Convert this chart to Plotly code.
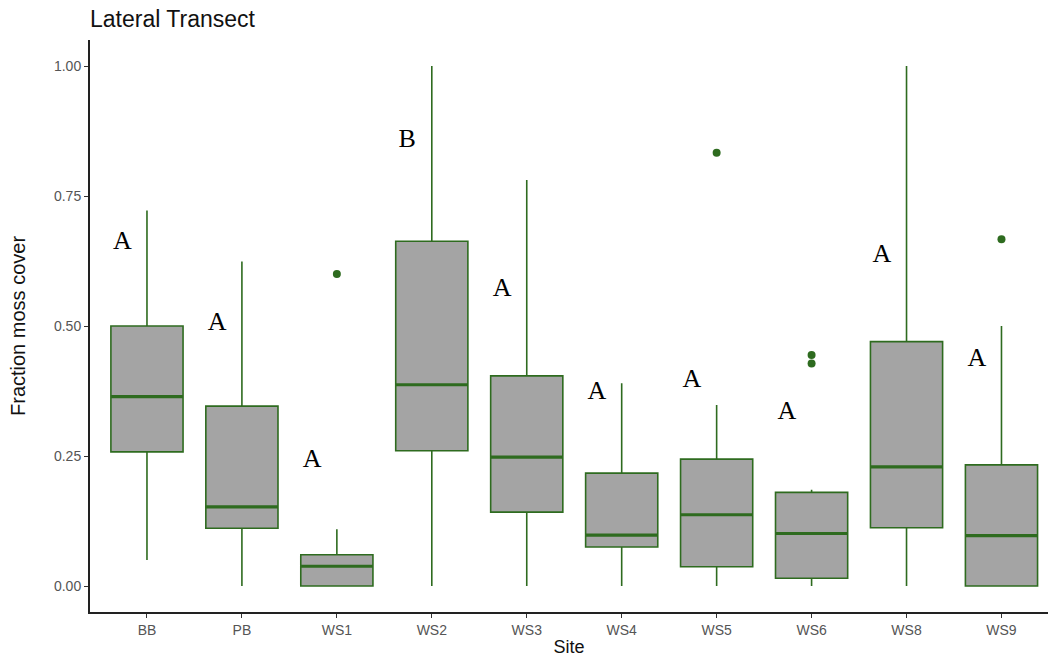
import plotly.graph_objects as go

# Fraction moss cover by site, lateral transect
sites = ["BB", "PB", "WS1", "WS2", "WS3", "WS4", "WS5", "WS6", "WS8", "WS9"]
lower_whisker = [0.05, 0.0, 0.0, 0.0, 0.0, 0.0, 0.0, 0.0, 0.0, 0.0]
q1 = [0.258, 0.111, 0.0, 0.260, 0.142, 0.075, 0.037, 0.015, 0.112, 0.0]
median = [0.364, 0.152, 0.038, 0.387, 0.248, 0.098, 0.137, 0.101, 0.229, 0.097]
q3 = [0.500, 0.346, 0.060, 0.663, 0.404, 0.217, 0.244, 0.180, 0.470, 0.233]
upper_whisker = [0.722, 0.624, 0.109, 1.0, 0.781, 0.390, 0.348, 0.185, 1.0, 0.500]

# Outlying observations (site, value)
outlier_site = ["WS1", "WS5", "WS6", "WS6", "WS9"]
outlier_value = [0.600, 0.833, 0.444, 0.428, 0.667]

# Compact letter display from post-hoc comparisons
group_letters = ["A", "A", "A", "B", "A", "A", "A", "A", "A", "A"]
letter_y = [0.660, 0.505, 0.242, 0.856, 0.571, 0.373, 0.396, 0.333, 0.635, 0.435]

GREEN = "#2e6b1f"
FILL = "#a4a4a4"
BOX_W = 0.76

xpos = list(range(len(sites)))

fig = go.Figure()
fig.add_trace(go.Box(
    x=xpos, q1=q1, median=median, q3=q3,
    lowerfence=lower_whisker, upperfence=upper_whisker,
    width=BOX_W, whiskerwidth=0, fillcolor=FILL,
    line=dict(color=GREEN, width=1.6),
    boxpoints=False, showlegend=False, hoverinfo="skip",
))

# thicker median bars, as in ggplot
for i, m in enumerate(median):
    fig.add_shape(type="line", xref="x", yref="y",
                  x0=i - BOX_W / 2, x1=i + BOX_W / 2, y0=m, y1=m,
                  line=dict(color=GREEN, width=3.2))

fig.add_trace(go.Scatter(
    x=[sites.index(s) for s in outlier_site], y=outlier_value,
    mode="markers", marker=dict(color=GREEN, size=8),
    showlegend=False, hoverinfo="skip",
))

fig.add_trace(go.Scatter(
    x=[i - 0.26 for i in xpos], y=letter_y, mode="text",
    text=group_letters,
    textfont=dict(family="Liberation Serif", size=26, color="black"),
    showlegend=False, hoverinfo="skip",
))

axis_common = dict(
    showgrid=False, zeroline=False, showline=True,
    linecolor="#222222", linewidth=2,
    ticks="outside", ticklen=4, tickwidth=1.2, tickcolor="#333333",
    tickfont=dict(family="Liberation Sans", size=14, color="#555555"),
)

# y-axis title placed as a rotated annotation near the left edge
fig.add_annotation(
    text="Fraction moss cover", textangle=-90,
    xref="paper", yref="paper", x=(18 - 90) / 958, y=0.5,
    xanchor="center", yanchor="middle", showarrow=False,
    font=dict(family="Liberation Sans", size=20, color="#111111"),
)

fig.update_layout(
    width=1048, height=658,
    paper_bgcolor="white", plot_bgcolor="white",
    margin=dict(l=90, r=0, t=40, b=46),
    title=dict(text="Lateral Transect", x=90 / 1048, xanchor="left",
               y=1 - 19 / 658, yanchor="middle",
               font=dict(family="Liberation Sans", size=23, color="#111111")),
    xaxis=dict(axis_common, tickvals=xpos, ticktext=sites,
               range=[-0.6, 9.49],
               title=dict(text="Site", standoff=4,
                          font=dict(family="Liberation Sans", size=18, color="#111111"))),
    yaxis=dict(axis_common, range=[-0.05, 1.05],
               tickvals=[0, 0.25, 0.5, 0.75, 1.0],
               ticktext=["0.00", "0.25", "0.50", "0.75", "1.00"]),
)

fig.write_html("out.html")
